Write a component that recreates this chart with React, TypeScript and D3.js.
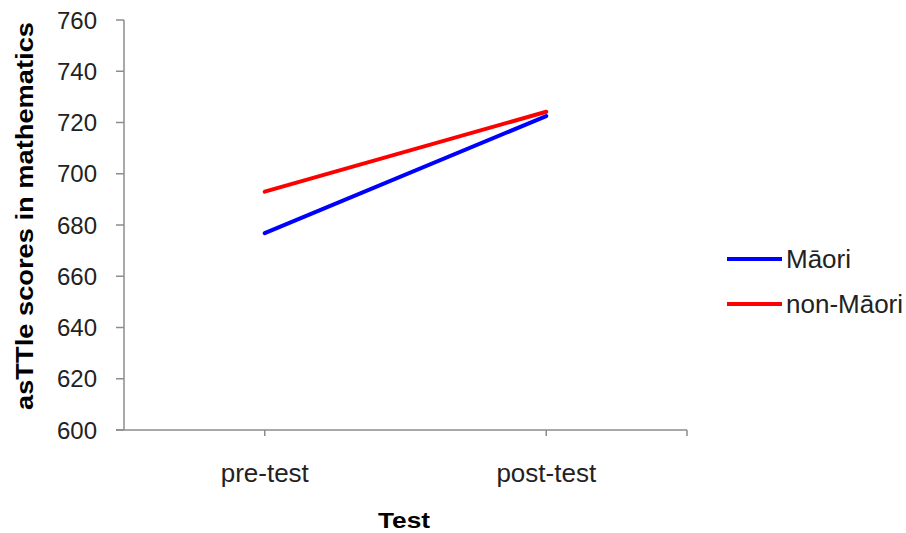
import React from "react";
import * as d3 from "d3";

const categories = ["pre-test", "post-test"];
const seriesNames = ["Māori", "non-Māori"];
const maoriValues = [676.8, 722.5];
const nonMaoriValues = [693.0, 724.2];
const yTicks = [600, 620, 640, 660, 680, 700, 720, 740, 760];
const seriesColors = ["#0000ff", "#ff0000"];

const W = 906;
const H = 533;

export default function App() {
  const x = d3.scaleBand<string>().domain(categories).range([124, 687]);
  const y = d3.scaleLinear().domain([600, 760]).range([430, 20]);
  const cx = (c: string) => (x(c) as number) + x.bandwidth() / 2;
  const line = d3
    .line<number>()
    .x((_, i) => cx(categories[i]))
    .y((d) => y(d));
  const series = [maoriValues, nonMaoriValues];
  const font = "Liberation Sans, Arial, sans-serif";
  const axisColor = "#8c8c8c";
  const xTickPositions = [...categories.map(cx), 687];

  return (
    <svg
      width={W}
      height={H}
      style={{ position: "absolute", left: 0, top: 0, background: "#fff" }}
      fontFamily={font}
    >
      {/* y axis */}
      <line x1={124} x2={124} y1={y(760)} y2={y(600)} stroke={axisColor} strokeWidth={1.5} />
      {yTicks.map((t) => (
        <g key={t}>
          <line x1={116} x2={124} y1={y(t)} y2={y(t)} stroke={axisColor} strokeWidth={1.5} />
          <text x={97} y={y(t)} dy="0.36em" textAnchor="end" fontSize={24} fill="#222">
            {t}
          </text>
        </g>
      ))}
      {/* x axis */}
      <line x1={116} x2={687} y1={y(600)} y2={y(600)} stroke={axisColor} strokeWidth={1.5} />
      {xTickPositions.map((p, i) => (
        <line key={i} x1={p} x2={p} y1={y(600)} y2={y(600) + 6} stroke={axisColor} strokeWidth={1.5} />
      ))}
      {categories.map((c) => (
        <text key={c} x={cx(c)} y={482} textAnchor="middle" fontSize={26} fill="#222">
          {c}
        </text>
      ))}
      {/* titles */}
      <text
        x={404}
        y={528}
        textAnchor="middle"
        fontSize={22}
        fontWeight="bold"
        fill="#000"
        textLength={52}
        lengthAdjust="spacingAndGlyphs"
      >
        Test
      </text>
      <text
        transform={`translate(33, 216) rotate(-90)`}
        textAnchor="middle"
        fontSize={24}
        fontWeight="bold"
        fill="#000"
        textLength={388}
        lengthAdjust="spacingAndGlyphs"
      >
        asTTle scores in mathematics
      </text>
      {/* lines */}
      {series.map((s, i) => (
        <path
          key={i}
          d={line(s) as string}
          fill="none"
          stroke={seriesColors[i]}
          strokeWidth={4}
          strokeLinecap="round"
        />
      ))}
      {/* legend */}
      {seriesNames.map((n, i) => (
        <g key={n} transform={`translate(727, ${259 + i * 45})`}>
          <line x1={0} x2={55} y1={0} y2={0} stroke={seriesColors[i]} strokeWidth={4} />
          <text x={59} y={0} dy="0.36em" fontSize={26} fill="#222">
            {n}
          </text>
        </g>
      ))}
    </svg>
  );
}
